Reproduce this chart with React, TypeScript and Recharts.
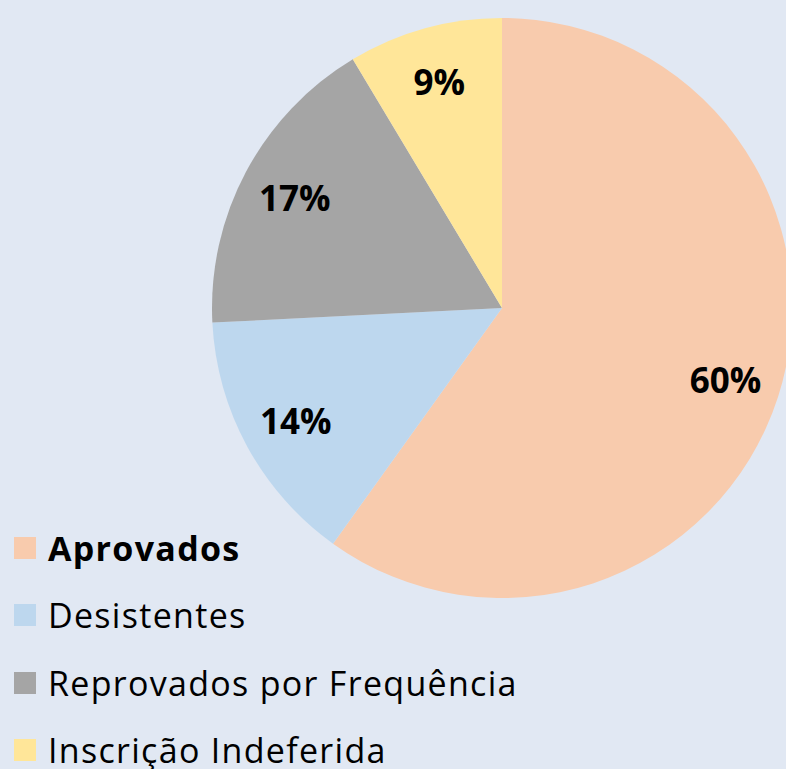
import React from 'react';
import { PieChart, Pie, Cell, Legend } from 'recharts';

const categories = ['Aprovados', 'Desistentes', 'Reprovados por Frequência', 'Inscrição Indeferida'];
const shares = [59.9, 14.3, 17.2, 8.6];
const shareLabels = ['60%', '14%', '17%', '9%'];
const colors = ['#F8CBAD', '#BDD7EE', '#A5A5A5', '#FFE699'];

const data = categories.map((name, i) => ({ name, value: shares[i], label: shareLabels[i] }));

const FONT = '"Open Sans", Lato, sans-serif';
const RADIAN = Math.PI / 180;

function SliceLabel(props: any) {
  const { cx, cy, midAngle, outerRadius, index } = props;
  const r = outerRadius * 0.81;
  const x = cx + r * Math.cos(-midAngle * RADIAN);
  const y = cy + r * Math.sin(-midAngle * RADIAN);
  return (
    <text x={x} y={y} textAnchor="middle" dominantBaseline="central"
      fontFamily={FONT} fontWeight={700} fontSize={35} fill="#000">
      {shareLabels[index]}
    </text>
  );
}

// keep legend in data order (recharts sorts payload by name)
function LegendList(props: any) {
  const items = [...(props.payload || [])].sort(
    (a: any, b: any) => categories.indexOf(a.value) - categories.indexOf(b.value)
  );
  return (
    <div style={{ fontFamily: FONT }}>
      {items.map((item: any, i: number) => (
        <div key={item.value} style={{ display: 'flex', alignItems: 'center', height: 67.5 }}>
          <span style={{ width: 22, height: 22, background: item.color, marginRight: 12, flexShrink: 0 }} />
          <span style={{ fontSize: 34, letterSpacing: 1.3, fontWeight: i === 0 ? 700 : 400, color: '#000', whiteSpace: 'nowrap' }}>
            {item.value}
          </span>
        </div>
      ))}
    </div>
  );
}

export default function App() {
  return (
    <div style={{ position: 'absolute', left: 0, top: 0, width: 786, height: 769, background: '#E1E8F3', overflow: 'hidden' }}>
      <PieChart width={786} height={769} margin={{ top: 0, right: 0, bottom: 0, left: 0 }}>
        <Pie
          data={data}
          dataKey="value"
          nameKey="name"
          cx={502}
          cy={308}
          outerRadius={290}
          startAngle={90}
          endAngle={-270}
          stroke="none"
          label={SliceLabel}
          labelLine={false}
          isAnimationActive={false}
        >
          {data.map((d, i) => (
            <Cell key={d.name} fill={colors[i]} />
          ))}
        </Pie>
        <Legend
          layout="vertical"
          content={LegendList}
          wrapperStyle={{ position: 'absolute', left: 14, top: 514, width: 650 }}
        />
      </PieChart>
    </div>
  );
}
